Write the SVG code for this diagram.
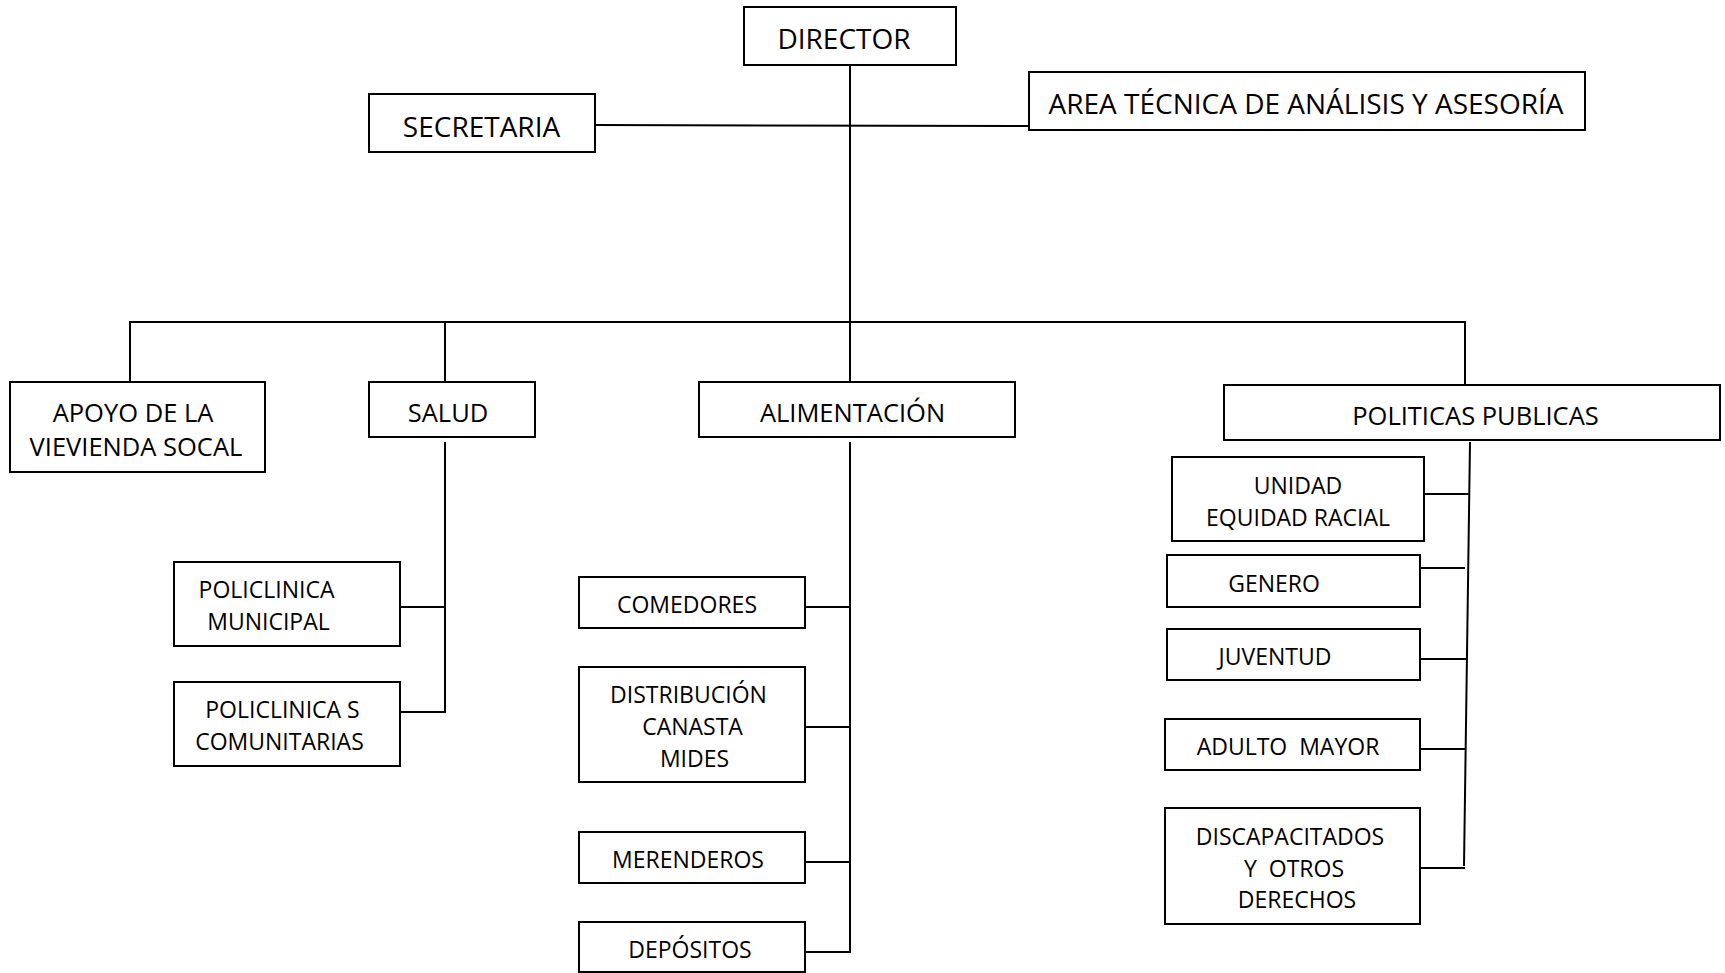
<svg xmlns="http://www.w3.org/2000/svg" width="1725" height="973" viewBox="0 0 1725 973">
<style>
rect.box{fill:#fff;stroke:#000;stroke-width:2}
#connectors line{stroke:#000;stroke-width:2}
text{font-family:"Open Sans","Noto Sans","DejaVu Sans",sans-serif;fill:#000;text-anchor:middle}
.l{font-size:28px}
.m{font-size:25.5px}
.s{font-size:23px}
</style>
<rect width="1725" height="973" fill="#fff"/>
<g id="connectors">
<line x1="850" y1="66" x2="850" y2="382"/>
<line x1="595" y1="125" x2="1029" y2="126"/>
<line x1="129" y1="322" x2="1466" y2="322"/>
<line x1="130" y1="322" x2="130" y2="382"/>
<line x1="445" y1="322" x2="445" y2="382"/>
<line x1="1465" y1="322" x2="1465" y2="385"/>
<line x1="445" y1="442" x2="445" y2="713"/>
<line x1="400" y1="607" x2="445" y2="607"/>
<line x1="400" y1="712" x2="446" y2="712"/>
<line x1="850" y1="442" x2="850" y2="953"/>
<line x1="805" y1="607" x2="850" y2="607"/>
<line x1="805" y1="727" x2="850" y2="727"/>
<line x1="805" y1="862" x2="850" y2="862"/>
<line x1="805" y1="952" x2="851" y2="952"/>
<line x1="1470" y1="442" x2="1464" y2="866"/>
<line x1="1424" y1="494" x2="1469" y2="494"/>
<line x1="1420" y1="568" x2="1465" y2="568"/>
<line x1="1420" y1="659" x2="1467" y2="659"/>
<line x1="1420" y1="749" x2="1466" y2="749"/>
<line x1="1420" y1="868" x2="1465" y2="868"/>
</g>
<g id="director"><rect class="box" x="744" y="7" width="212" height="58"/><text class="l" x="844" y="49">DIRECTOR</text></g>
<g id="secretaria"><rect class="box" x="369" y="94" width="226" height="58"/><text class="l" x="481.5" y="137">SECRETARIA</text></g>
<g id="area-tecnica"><rect class="box" x="1029" y="72" width="556" height="58"/><text class="l" x="1306" y="114">AREA TÉCNICA DE ANÁLISIS Y ASESORÍA</text></g>
<g id="apoyo"><rect class="box" x="10" y="382" width="255" height="90"/><text class="m" x="133" y="422">APOYO DE LA</text><text class="m" x="136" y="456">VIEVIENDA SOCAL</text></g>
<g id="salud"><rect class="box" x="369" y="382" width="166" height="55"/><text class="m" x="448" y="422">SALUD</text></g>
<g id="alimentacion"><rect class="box" x="699" y="382" width="316" height="55"/><text class="m" x="852.5" y="422">ALIMENTACIÓN</text></g>
<g id="politicas"><rect class="box" x="1224" y="385" width="496" height="55"/><text class="m" x="1475.5" y="425">POLITICAS PUBLICAS</text></g>
<g id="policlinica-municipal"><rect class="box" x="174" y="562" width="226" height="84"/><text class="s" x="266.5" y="598">POLICLINICA</text><text class="s" x="268.5" y="630">MUNICIPAL</text></g>
<g id="policlinicas-comunitarias"><rect class="box" x="174" y="682" width="226" height="84"/><text class="s" x="282.5" y="718">POLICLINICA S</text><text class="s" x="279.5" y="750">COMUNITARIAS</text></g>
<g id="comedores"><rect class="box" x="579" y="577" width="226" height="51"/><text class="s" x="687" y="613">COMEDORES</text></g>
<g id="distribucion"><rect class="box" x="579" y="667" width="226" height="115"/><text class="s" x="688.5" y="703">DISTRIBUCIÓN</text><text class="s" x="692.5" y="735">CANASTA</text><text class="s" x="694.5" y="767">MIDES</text></g>
<g id="merenderos"><rect class="box" x="579" y="832" width="226" height="51"/><text class="s" x="688" y="868">MERENDEROS</text></g>
<g id="depositos"><rect class="box" x="579" y="922" width="226" height="50"/><text class="s" x="690" y="958">DEPÓSITOS</text></g>
<g id="unidad"><rect class="box" x="1172" y="457" width="252" height="84"/><text class="s" x="1298" y="494">UNIDAD</text><text class="s" x="1298" y="526">EQUIDAD RACIAL</text></g>
<g id="genero"><rect class="box" x="1167" y="555" width="253" height="52"/><text class="s" x="1274" y="592">GENERO</text></g>
<g id="juventud"><rect class="box" x="1167" y="629" width="253" height="51"/><text class="s" x="1275" y="665">JUVENTUD</text></g>
<g id="adulto-mayor"><rect class="box" x="1165" y="719" width="255" height="51"/><text class="s" x="1288" y="755" xml:space="preserve">ADULTO  MAYOR</text></g>
<g id="discapacitados"><rect class="box" x="1165" y="808" width="255" height="116"/><text class="s" x="1290" y="845">DISCAPACITADOS</text><text class="s" x="1294" y="877" xml:space="preserve">Y  OTROS</text><text class="s" x="1297" y="908">DERECHOS</text></g>
</svg>
